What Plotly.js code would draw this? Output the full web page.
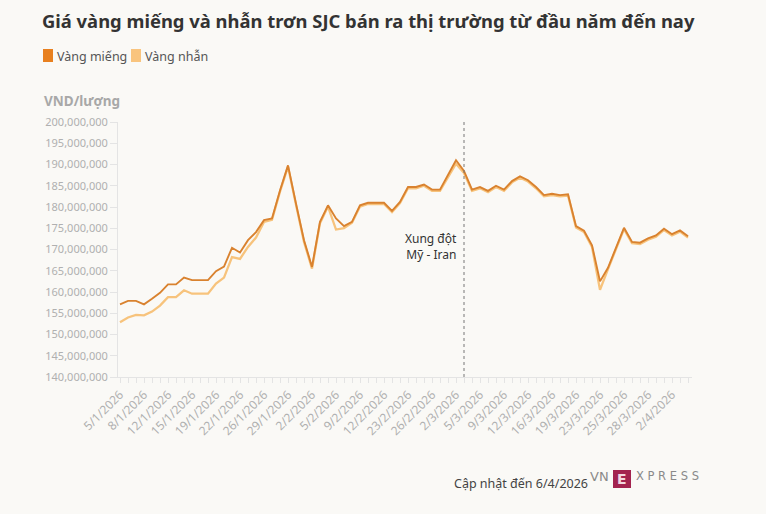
<!DOCTYPE html>
<html>
<head>
<meta charset="utf-8">
<script src="https://cdn.plot.ly/plotly-3.0.1.min.js"></script>
<style>
html,body{margin:0;padding:0;background:#faf9f6;}
#chart{width:766px;height:514px;}
</style>
</head>
<body>
<div id="chart"></div>
<script>
// ---- data ----
const dates = [
 "5/1/2026","6/1/2026","7/1/2026","8/1/2026","9/1/2026","10/1/2026",
 "12/1/2026","13/1/2026","14/1/2026","15/1/2026","16/1/2026","17/1/2026",
 "19/1/2026","20/1/2026","21/1/2026","22/1/2026","23/1/2026","24/1/2026",
 "26/1/2026","27/1/2026","28/1/2026","29/1/2026","30/1/2026","31/1/2026",
 "2/2/2026","3/2/2026","4/2/2026","5/2/2026","6/2/2026","7/2/2026",
 "9/2/2026","10/2/2026","11/2/2026","12/2/2026","13/2/2026","14/2/2026",
 "23/2/2026","24/2/2026","25/2/2026","26/2/2026","27/2/2026","28/2/2026",
 "2/3/2026","3/3/2026","4/3/2026","5/3/2026","6/3/2026","7/3/2026",
 "9/3/2026","10/3/2026","11/3/2026","12/3/2026","13/3/2026","14/3/2026",
 "16/3/2026","17/3/2026","18/3/2026","19/3/2026","20/3/2026","21/3/2026",
 "23/3/2026","24/3/2026 sáng","24/3/2026 chiều","25/3/2026","26/3/2026","27/3/2026",
 "28/3/2026","30/3/2026","1/4/2026","2/4/2026","4/4/2026","6/4/2026"
];
const tickLabels = [
 "5/1/2026","8/1/2026","12/1/2026","15/1/2026","19/1/2026","22/1/2026",
 "26/1/2026","29/1/2026","2/2/2026","5/2/2026","9/2/2026","12/2/2026",
 "23/2/2026","26/2/2026","2/3/2026","5/3/2026","9/3/2026","12/3/2026",
 "16/3/2026","19/3/2026","23/3/2026","25/3/2026","28/3/2026","2/4/2026"
];
const vangMieng = [
 157100000,157900000,157900000,157100000,158400000,159800000,
 161800000,161800000,163400000,162800000,162800000,162800000,
 164900000,166000000,170400000,169300000,172200000,174100000,
 176900000,177300000,183900000,189800000,180800000,172200000,
 165900000,176500000,180400000,177300000,175500000,176500000,
 180400000,181000000,181000000,181000000,179100000,181200000,
 184700000,184700000,185300000,184100000,184100000,187500000,
 191000000,188500000,184100000,184700000,183800000,185000000,
 184100000,186100000,187200000,186300000,184700000,182800000,
 183100000,182800000,183000000,175500000,174400000,171000000,
 162500000,165700000,170600000,175100000,171800000,171600000,
 172600000,173300000,174900000,173600000,174500000,173100000
];
const vangNhan = [
 152900000,154000000,154600000,154500000,155400000,156800000,
 158800000,158800000,160400000,159600000,159600000,159600000,
 162000000,163400000,168200000,167800000,170600000,172800000,
 176500000,177000000,183600000,189500000,180500000,171800000,
 165500000,176200000,180100000,174700000,175000000,176300000,
 180100000,180700000,180700000,180700000,178800000,180900000,
 184400000,184400000,185000000,183800000,183800000,187000000,
 190200000,188000000,183800000,184400000,183500000,184700000,
 183800000,185800000,186900000,186000000,184400000,182500000,
 182800000,182500000,182700000,175200000,174100000,170600000,
 160500000,165400000,170300000,174800000,171500000,171300000,
 172300000,173000000,174600000,173300000,174200000,172800000
];
const yTicks = [140000000,145000000,150000000,155000000,160000000,165000000,170000000,175000000,180000000,185000000,190000000,195000000,200000000];
const eventDate = "3/3/2026";
const eventLabel = "Xung đột<br>Mỹ - Iran";
const seriesNames = ["Vàng miếng","Vàng nhẫn"];
const colors = ["#d9822f","#f7c37c"];

// ---- layout helpers ----
const W=766,H=514,L=118,R=74,T=122,B=137;
const pw=W-L-R, ph=H-T-B;
const px = x => (x-L)/pw;
const py = y => (H-B-y)/ph;
const font = "Noto Sans, Open Sans, sans-serif";

// all category ticks get a mark; only every third gets a label
const tickText = dates.map(d => tickLabels.includes(d) ? d : "");

const traces = [
 {x:dates, y:vangNhan, name:seriesNames[1], type:"scatter", mode:"lines",
  line:{color:colors[1], width:2.3}, hoverinfo:"x+y+name"},
 {x:dates, y:vangMieng, name:seriesNames[0], type:"scatter", mode:"lines",
  line:{color:colors[0], width:1.9}, hoverinfo:"x+y+name"}
];

const layout = {
 width:W, height:H,
 paper_bgcolor:"#faf9f6", plot_bgcolor:"#faf9f6",
 margin:{l:L, r:R, t:T, b:B, pad:0},
 showlegend:false,
 title:{text:"<b>Giá vàng miếng và nhẫn trơn SJC bán ra thị trường từ đầu năm đến nay</b>",
   font:{family:font, size:18.4, color:"#333333"},
   x:42/W, xanchor:"left", xref:"container",
   y:1-22/H, yanchor:"middle", yref:"container"},
 xaxis:{type:"category", range:[-0.25,71.5],
   tickmode:"array", tickvals:dates, ticktext:tickText, tickangle:-45,
   ticks:"outside", ticklen:5, tickcolor:"#e4e4e4", tickwidth:1,
   showline:true, linecolor:"#e4e4e4", linewidth:1,
   showgrid:false, zeroline:false,
   tickfont:{family:font, size:12, color:"#b0b0b0"}},
 yaxis:{range:[140000000,200000000], tickmode:"array", tickvals:yTicks,
   tickformat:",d", ticks:"outside", ticklen:7, tickcolor:"#e4e4e4",
   showline:true, linecolor:"#e4e4e4", linewidth:1,
   showgrid:false, zeroline:false,
   tickfont:{family:font, size:11, color:"#b0b0b0"}},
 shapes:[
  {type:"line", xref:"x", x0:eventDate, x1:eventDate, yref:"paper", y0:0, y1:1,
   line:{color:"#777", width:1, dash:"dot"}},
  {type:"rect", xref:"paper", yref:"paper", x0:px(43), x1:px(53), y0:py(49), y1:py(62),
   fillcolor:"#e8801f", line:{width:0}},
  {type:"rect", xref:"paper", yref:"paper", x0:px(131), x1:px(141), y0:py(49), y1:py(62),
   fillcolor:"#f9c47e", line:{width:0}},
  {type:"rect", xref:"paper", yref:"paper", x0:px(613), x1:px(631), y0:py(470), y1:py(488),
   fillcolor:"#a3234f", line:{width:0}}
 ],
 annotations:[
  {text:seriesNames[0], xref:"paper", yref:"paper", x:px(55), y:py(56), xanchor:"left", yanchor:"middle",
   showarrow:false, font:{family:font, size:12.5, color:"#555"}},
  {text:seriesNames[1], xref:"paper", yref:"paper", x:px(143), y:py(56), xanchor:"left", yanchor:"middle",
   showarrow:false, font:{family:font, size:12.5, color:"#555"}},
  {text:"<b>VND/lượng</b>", xref:"paper", yref:"paper", x:px(42), y:py(101), xanchor:"left", yanchor:"middle",
   showarrow:false, font:{family:font, size:13.5, color:"#a8a8a8"}},
  {text:eventLabel, xref:"x", yref:"y", x:eventDate, y:170750000, xanchor:"right", yanchor:"middle",
   xshift:-5, align:"right", showarrow:false, font:{family:font, size:12, color:"#333"}},
  {text:"Cập nhật đến 6/4/2026", xref:"paper", yref:"paper", x:px(452), y:py(483), xanchor:"left", yanchor:"middle",
   showarrow:false, font:{family:font, size:12.5, color:"#444"}},
  {text:"VN", xref:"paper", yref:"paper", x:px(588), y:py(476), xanchor:"left", yanchor:"middle",
   showarrow:false, font:{family:"DejaVu Sans, sans-serif", size:13, color:"#8a8a8a"}},
  {text:"<b>E</b>", xref:"paper", yref:"paper", x:px(622), y:py(479), xanchor:"center", yanchor:"middle",
   showarrow:false, font:{family:"DejaVu Sans, sans-serif", size:14, color:"#f3d7e0"}},
  {text:"X P R E S S", xref:"paper", yref:"paper", x:px(634), y:py(476), xanchor:"left", yanchor:"middle",
   showarrow:false, font:{family:"DejaVu Sans, sans-serif", size:11.5, color:"#8a8a8a"}}
 ]
};

Plotly.newPlot("chart", traces, layout, {displayModeBar:false, staticPlot:true});
</script>
</body>
</html>
